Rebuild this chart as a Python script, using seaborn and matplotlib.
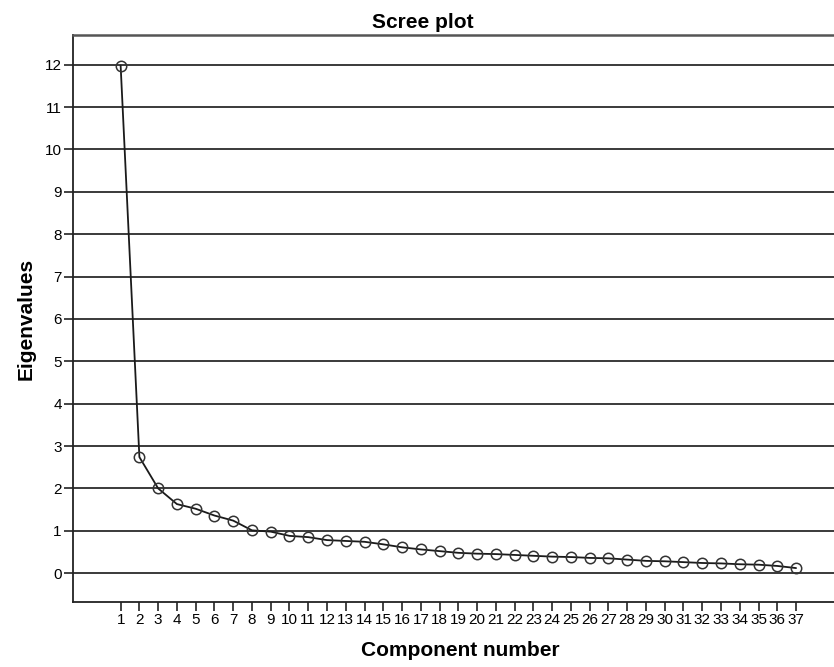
import pandas as pd
import matplotlib
matplotlib.use("Agg")
import matplotlib.pyplot as plt
import seaborn as sns

# ============================================
# DATA
# ============================================
components = list(range(1, 38))
eigenvalues = [
    11.98, 2.74, 2.00, 1.63, 1.52, 1.36, 1.24, 1.01, 0.98, 0.88,
    0.85, 0.78, 0.76, 0.74, 0.68, 0.61, 0.56, 0.52, 0.48, 0.46,
    0.45, 0.43, 0.41, 0.39, 0.38, 0.36, 0.35, 0.32, 0.29, 0.28,
    0.26, 0.24, 0.23, 0.21, 0.20, 0.17, 0.12,
]
y_ticks = list(range(0, 13))

df = pd.DataFrame({"Component number": components, "Eigenvalues": eigenvalues})

# ============================================
# STYLE
# ============================================
sns.set_style("white")
plt.rcParams["font.family"] = ["Liberation Sans", "DejaVu Sans"]

fig = plt.figure(figsize=(8.34, 6.67), dpi=100)
ax = fig.add_axes([0.0875, 0.0975, 0.93, 0.85])

# horizontal grid lines at every integer
for v in y_ticks:
    ax.axhline(v, color="#2b2b2b", lw=1.3, zorder=1)

sns.lineplot(
    data=df, x="Component number", y="Eigenvalues", ax=ax,
    color="#1a1a1a", lw=1.3, marker="o", markersize=7.5,
    markerfacecolor="none", markeredgecolor="#333333", markeredgewidth=1.1,
    zorder=3,
)

ax.set_xlim(-1.54, 39.8)
ax.set_ylim(-0.68, 12.7)
ax.set_xticks(components)
ax.set_yticks(y_ticks)
ax.tick_params(axis="both", which="major", direction="out", length=6.5,
               width=1.2, color="#222222", labelcolor="black",
               labelsize=11, pad=1.5, bottom=True, left=True)

for side in ["left", "bottom"]:
    ax.spines[side].set_color("#222222")
    ax.spines[side].set_linewidth(1.3)
ax.spines["top"].set_color("#555555")
ax.spines["top"].set_linewidth(1.8)
ax.spines["right"].set_visible(False)

# SPSS centres the title on the chart, not on the plot area
fig.text(423 / 834, 1 - 22 / 667, "Scree plot", ha="center", va="center",
         fontsize=15, fontweight="bold", color="black")
ax.set_xlabel("Component number", fontsize=15, fontweight="bold",
              labelpad=10, color="black")
ax.set_ylabel("Eigenvalues", fontsize=15, fontweight="bold",
              labelpad=7, color="black")

fig.savefig("out.png", dpi=100)
